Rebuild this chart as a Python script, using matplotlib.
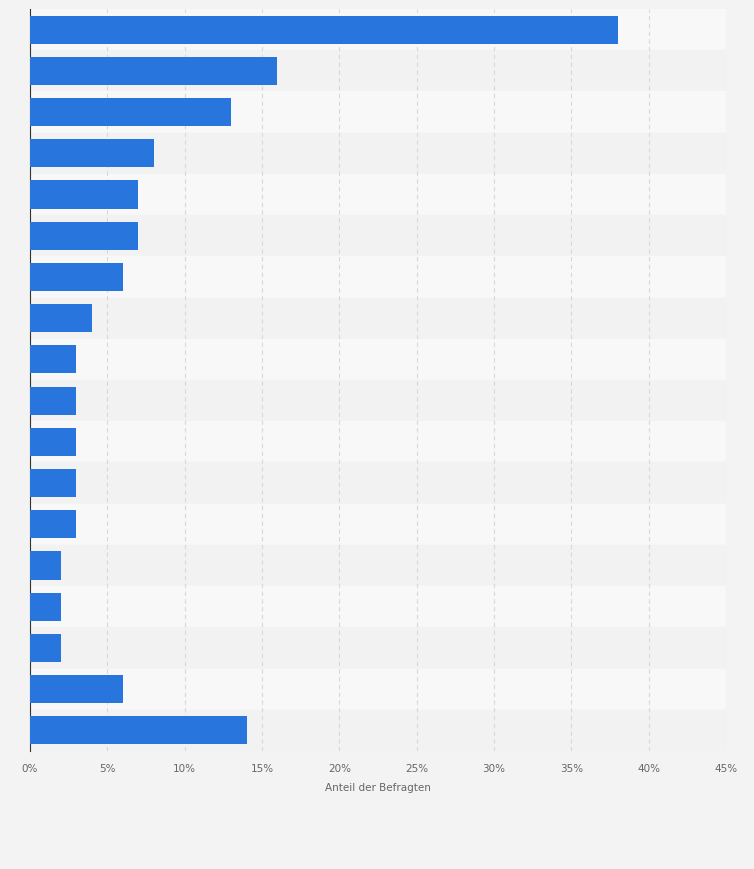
import matplotlib.pyplot as plt
from matplotlib.ticker import FuncFormatter

# Shares (percent), top to bottom
values = [38, 16, 13, 8, 7, 7, 6, 4, 3, 3, 3, 3, 3, 2, 2, 2, 6, 14]
xticks = [0, 5, 10, 15, 20, 25, 30, 35, 40, 45]
xlabel = "Anteil der Befragten"

fig = plt.figure(figsize=(7.54, 8.7), dpi=100, facecolor="#f3f3f3")
ax = fig.add_axes([30 / 754, 1 - 752 / 870, 696 / 754, 742 / 870])
ax.set_facecolor("#f3f3f3")

n = len(values)
ypos = list(range(n))
for i in ypos:
    ax.axhspan(i - 0.5, i + 0.5, color="#f8f8f8" if i % 2 == 0 else "#f2f2f2", zorder=0)

ax.barh(ypos, values, height=0.68, color="#2876dd", zorder=3)
ax.set_ylim(n - 0.5, -0.5)
ax.set_xlim(0, 45)
ax.set_xticks(xticks)
ax.xaxis.set_major_formatter(FuncFormatter(lambda v, p: f"{v:.0f}%"))
ax.set_yticks([])
ax.grid(axis="x", color="#d8d8d8", linestyle=(0, (4, 3)), linewidth=0.8, zorder=1)
ax.tick_params(axis="x", length=0, labelsize=7.5, labelcolor="#666666", pad=9)
for lbl in ax.get_xticklabels():
    lbl.set_horizontalalignment("center")
for s in ["top", "right", "bottom"]:
    ax.spines[s].set_visible(False)
ax.spines["left"].set_color("#333333")
ax.spines["left"].set_linewidth(0.8)
ax.set_xlabel(xlabel, fontsize=7.5, color="#666666", labelpad=6)

fig.savefig("out.png", dpi=100, facecolor=fig.get_facecolor())
